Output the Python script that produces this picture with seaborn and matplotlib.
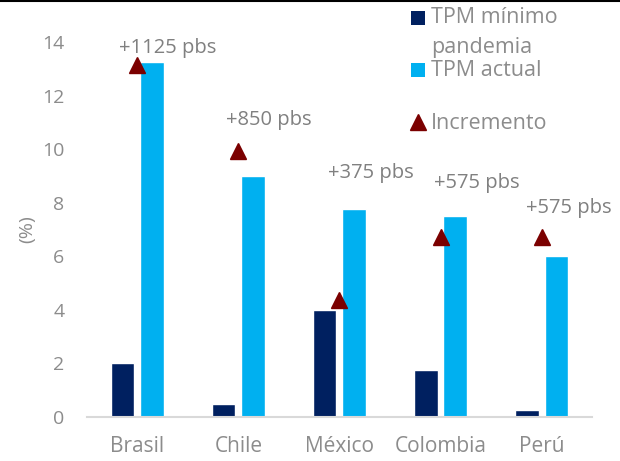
import matplotlib
matplotlib.use("Agg")
import matplotlib.pyplot as plt
from matplotlib.lines import Line2D
from matplotlib.patches import Rectangle
import numpy as np
import pandas as pd
import seaborn as sns

paises = ["Brasil", "Chile", "México", "Colombia", "Perú"]
tpm_minimo = [2.0, 0.5, 4.0, 1.75, 0.25]
tpm_actual = [13.25, 9.0, 7.75, 7.5, 6.0]
incremento = [11.25, 8.5, 3.75, 5.75, 5.75]
etiquetas = ["+1125 pbs", "+850 pbs", "+375 pbs", "+575 pbs", "+575 pbs"]
# where the text labels sit (manual, like the original)
etiq_dx = [-0.18, -0.12, -0.11, -0.06, -0.15]
etiq_y = [13.77, 11.08, 9.1, 8.73, 7.8]

navy = "#002060"
cyan = "#00B0F0"
rojo = "#7B0000"
gris = "#8C8C8C"

sns.set_theme(style="white")
plt.rcParams["font.family"] = ["Open Sans", "DejaVu Sans"]

df = pd.DataFrame({
    "pais": paises * 2,
    "valor": tpm_minimo + tpm_actual,
    "serie": ["TPM mínimo pandemia"] * 5 + ["TPM actual"] * 5,
})

fig = plt.figure(figsize=(6.2, 4.61), dpi=100)
ax = fig.add_axes([0.140, 0.0954, 0.815, 0.8136])

sns.barplot(data=df, x="pais", y="valor", hue="serie",
            palette=[navy, cyan], width=0.584, gap=0.2,
            ax=ax, legend=False, saturation=1)

ax.set_xlim(-0.5, 4.5)
ax.set_ylim(0, 14)
ax.set_yticks(range(0, 15, 2))
ax.set_xlabel("")
ax.set_ylabel("(%)", color=gris, fontsize=14, labelpad=4)
ax.tick_params(axis="x", length=0, colors=gris, labelsize=15, pad=14)
ax.tick_params(axis="y", length=0, colors=gris, labelsize=14, pad=16)
for s in ["top", "right", "left"]:
    ax.spines[s].set_visible(False)
ax.spines["bottom"].set_color("#D9D9D9")
ax.spines["bottom"].set_linewidth(1.5)

# secondary axis for the increment (0-12)
ax2 = ax.twinx()
ax2.plot(range(len(paises)), incremento, linestyle="none", marker="^",
         markersize=11, color=rojo)
ax2.set_ylim(0, 12)
ax2.set_yticks([])
for s in ax2.spines.values():
    s.set_visible(False)

for i, t in enumerate(etiquetas):
    ax.text(i + etiq_dx[i], etiq_y[i], t, ha="left", va="center",
            fontsize=14.5, color="#808080")

# legend drawn by hand, top right
fig.patches.append(Rectangle((0.663, 0.946), 0.022, 0.03, transform=fig.transFigure,
                             facecolor=navy, edgecolor="none"))
fig.text(0.695, 0.961, "TPM mínimo", color=gris, fontsize=15.5, va="center")
fig.text(0.695, 0.897, "pandemia", color=gris, fontsize=15.5, va="center")
fig.patches.append(Rectangle((0.663, 0.833), 0.022, 0.03, transform=fig.transFigure,
                             facecolor=cyan, edgecolor="none"))
fig.text(0.695, 0.848, "TPM actual", color=gris, fontsize=15.5, va="center")
fig.add_artist(Line2D([0.674], [0.736], marker="^", markersize=11, color=rojo,
                      transform=fig.transFigure))
fig.text(0.695, 0.733, "Incremento", color=gris, fontsize=15.5, va="center")

# thin black frame line at the top
fig.add_artist(Line2D([0, 1], [0.998, 0.998], color="black", linewidth=1.5,
                      transform=fig.transFigure))

fig.savefig("out.png", dpi=100)
